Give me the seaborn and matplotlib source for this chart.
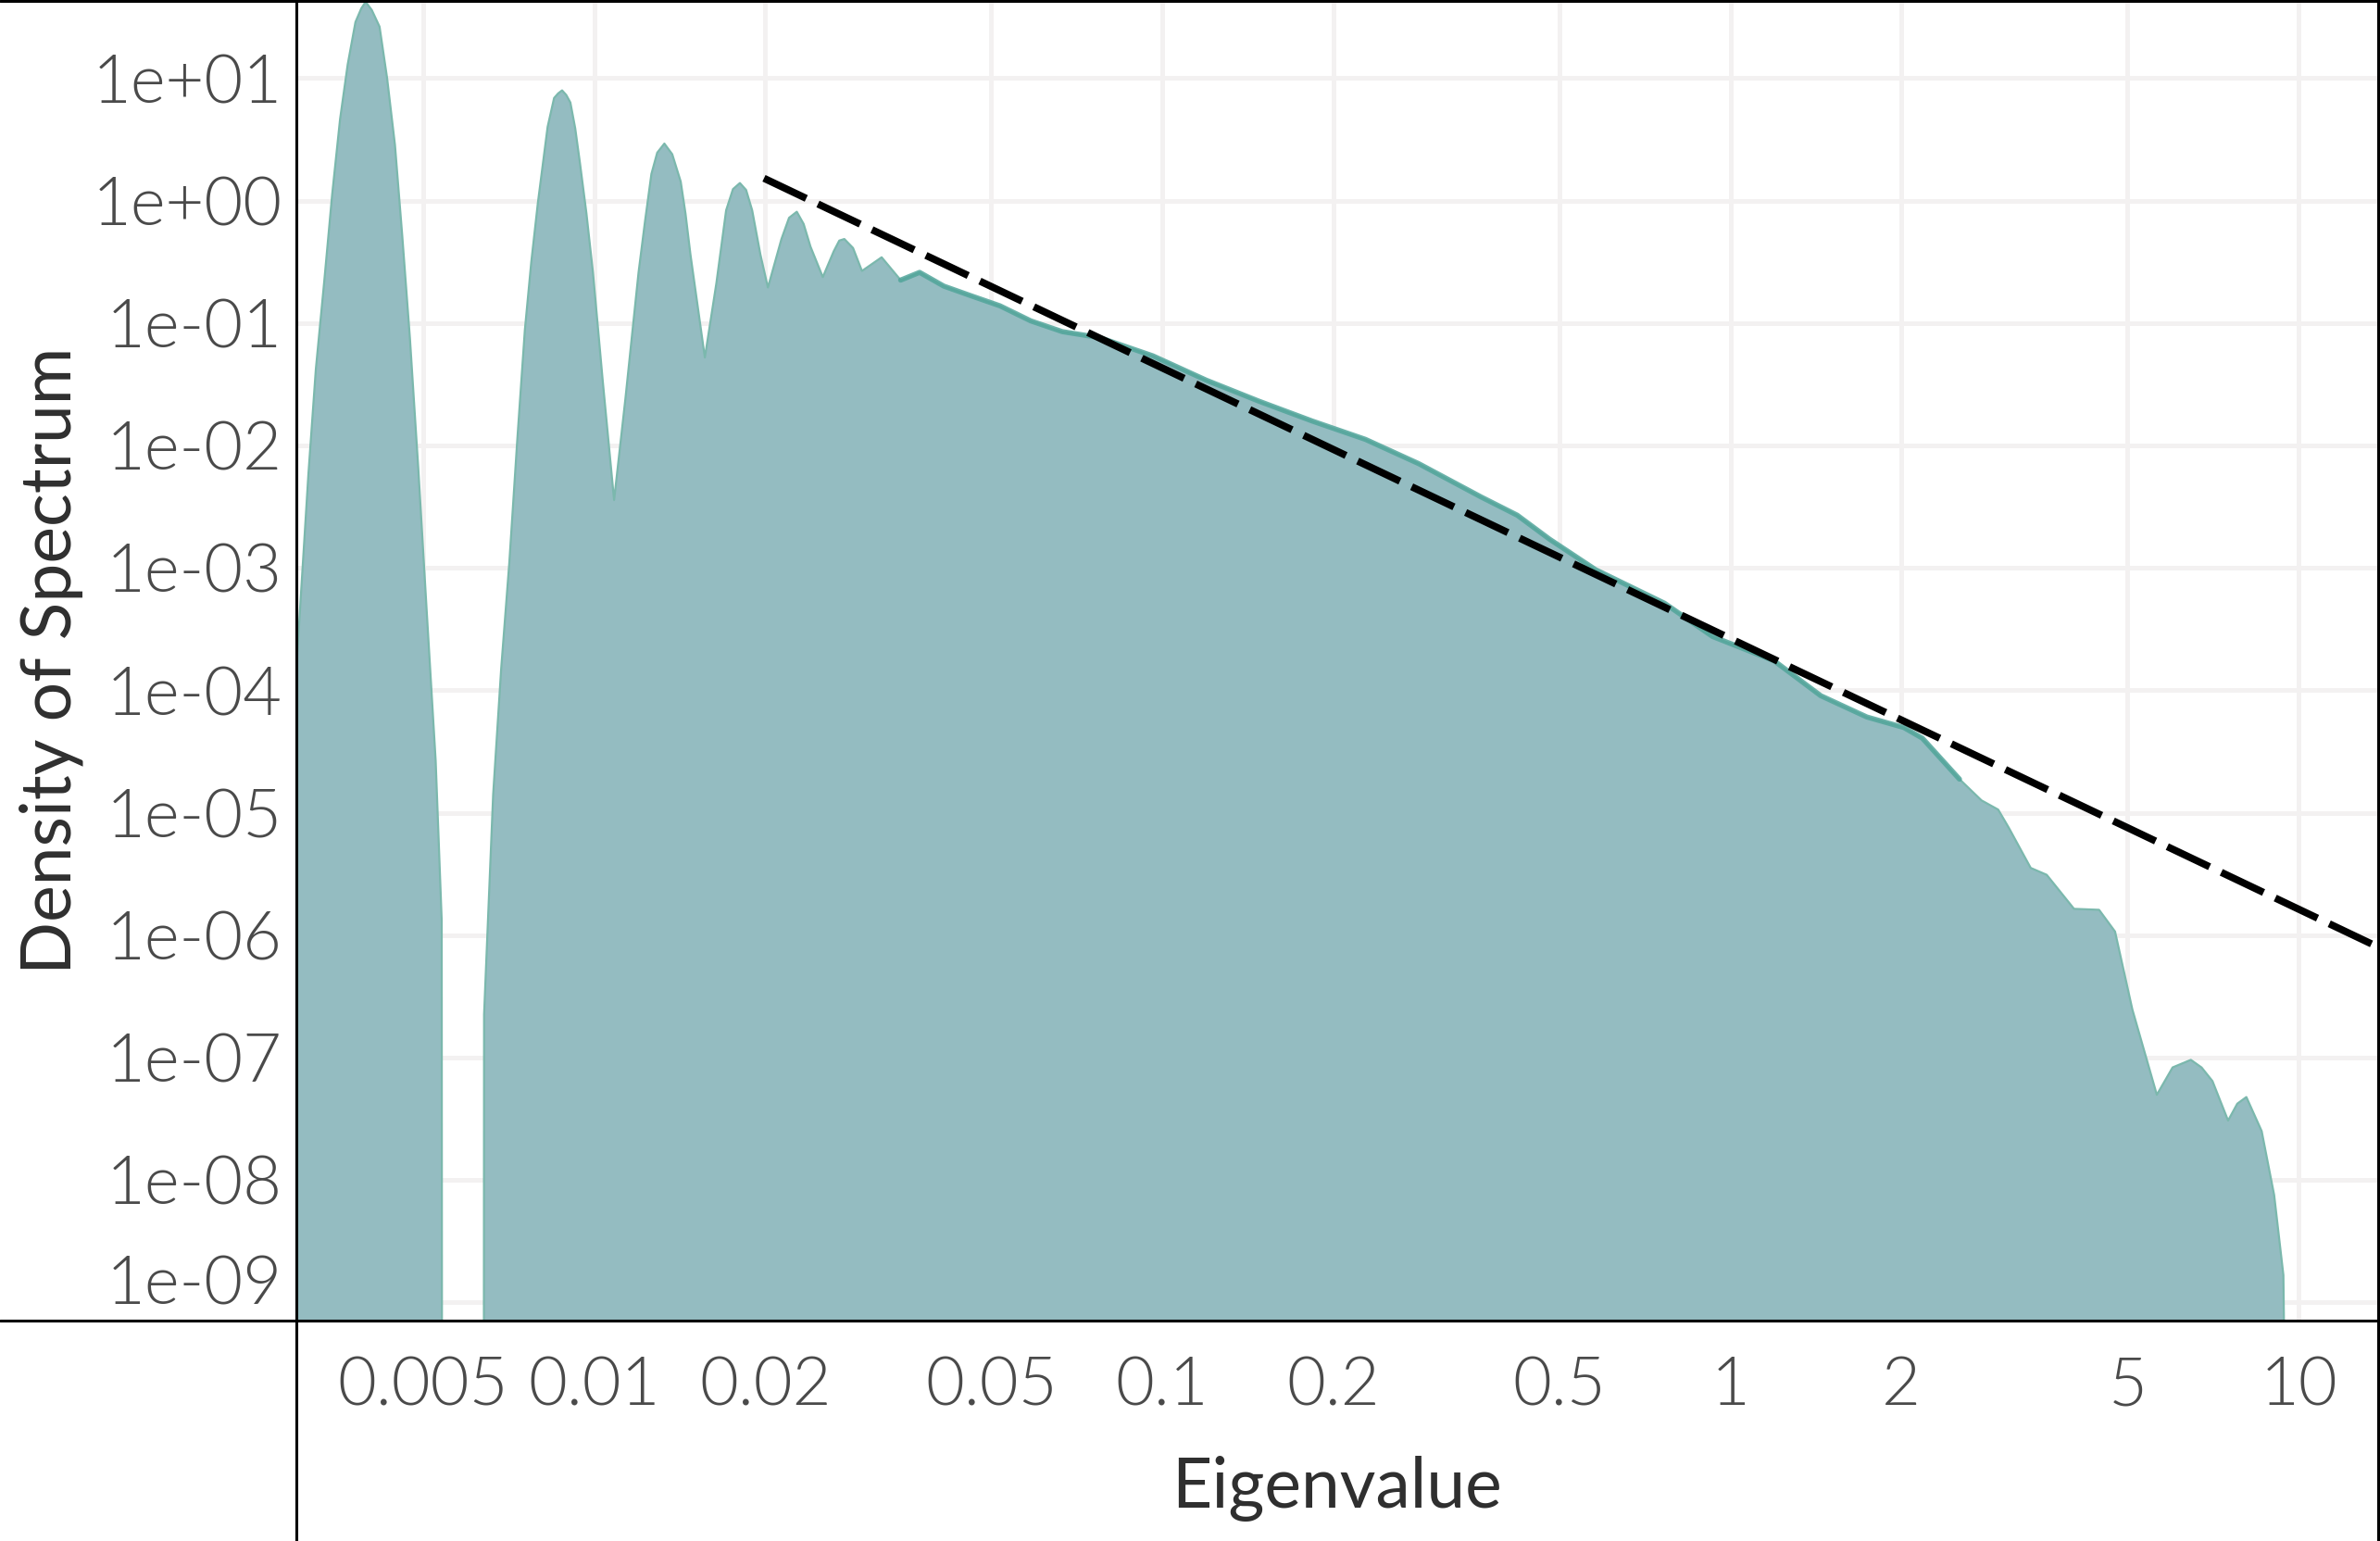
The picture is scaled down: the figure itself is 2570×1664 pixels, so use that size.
import numpy as np
import pandas as pd
import matplotlib
matplotlib.use("Agg")
import matplotlib.pyplot as plt
import matplotlib.transforms as mtransforms
from matplotlib.lines import Line2D
from matplotlib.ticker import NullLocator
import seaborn as sns

# ------------------------------------------------------------
# values (eigenvalue, density of spectrum)
# ------------------------------------------------------------
eigenvalue = [
    0.00296, 0.00314, 0.003236, 0.00335, 0.003457, 0.00357, 0.003682, 0.00380,
    0.00389, 0.00396, 0.00406, 0.00419, 0.00432, 0.00446, 0.004594, 0.00474,
    0.004902, 0.00507, 0.00526, 0.00539, 0.00540,
    0.00639, 0.00640, 0.00664, 0.00686, 0.00709, 0.00732, 0.00755, 0.00775,
    0.00796, 0.00828, 0.00850, 0.00864, 0.00878, 0.00893, 0.00908, 0.00926,
    0.00944, 0.00969, 0.00995, 0.01035, 0.01084, 0.01135, 0.01197, 0.01229,
    0.01261, 0.01291, 0.01329, 0.01372, 0.01420, 0.01448, 0.01477, 0.01566,
    0.01641, 0.01707, 0.01755, 0.01805, 0.01851, 0.01897, 0.01961, 0.02022,
    0.02136, 0.02203, 0.02273, 0.02337, 0.02403, 0.02526, 0.02640, 0.02700,
    0.02756, 0.02855, 0.02960, 0.03206, 0.03463, 0.03739, 0.04125, 0.04569,
    0.05180, 0.05868, 0.06666, 0.07762, 0.09631, 0.1195, 0.1482, 0.1837,
    0.2278, 0.2826, 0.3641, 0.4215, 0.4808, 0.5793, 0.7655, 0.9301, 1.194,
    1.442, 1.738, 2.020, 2.177, 2.530, 2.767, 2.960, 3.090, 3.377, 3.603,
    4.025, 4.455, 4.753, 5.100, 5.630, 6.002, 6.462, 6.750, 7.054, 7.515,
    7.800, 8.093, 8.611, 9.057, 9.404, 9.579,
]
density = [
    7.0e-5, 5.8e-3, 0.0417, 0.224, 1.11, 4.61, 12.9, 28.7,
    37.0, 42.0, 36.0, 26.3, 10.0, 2.84, 0.513, 0.0737,
    6.5e-3, 4.59e-4, 2.65e-5, 1.32e-6, 0.0,
    0.0, 2.25e-7, 1.41e-5, 1.51e-4, 1.11e-3, 0.0109, 0.0875, 0.316,
    0.961, 4.00, 6.88, 7.50, 7.94, 7.28, 6.32, 3.89,
    2.02, 0.787, 0.259, 0.0341, 3.58e-3, 0.0242, 0.259, 0.682,
    1.65, 2.46, 2.92, 2.39, 1.43, 0.78, 0.364, 0.0523,
    0.212, 0.833, 1.24, 1.39, 1.22, 0.833, 0.364, 0.195,
    0.485, 0.723, 0.810, 0.644, 0.420, 0.237, 0.385, 0.471,
    0.485, 0.41, 0.266, 0.344, 0.224, 0.259, 0.200, 0.169,
    0.138, 0.104, 0.0850, 0.0759, 0.0538, 0.0341, 0.0229, 0.0158,
    0.0112, 7.10e-3, 3.79e-3, 2.69e-3, 1.71e-3, 9.64e-4, 5.14e-4, 2.75e-4, 1.74e-4,
    9.03e-5, 6.05e-5, 4.96e-5, 4.06e-5, 1.88e-5, 1.26e-5, 1.06e-5, 7.54e-6,
    3.54e-6, 3.11e-6, 1.64e-6, 1.61e-6, 1.07e-6, 2.46e-7, 4.97e-8, 8.31e-8,
    9.58e-8, 8.3e-8, 6.43e-8, 3.06e-8,
    4.2e-8, 4.76e-8, 2.51e-8, 7.56e-9, 1.67e-9, 0.0,
]

# darker overlay only covers the bulk of the spectrum
overlay_lo, overlay_hi = 0.0345, 2.55

# power law fit (dashed)
fit_eigenvalue = [0.0199, 13.8]
fit_density = [1.52, 8.0e-7]

x_ticks = [0.005, 0.01, 0.02, 0.05, 0.1, 0.2, 0.5, 1, 2, 5, 10]
x_tick_labels = ["0.005", "0.01", "0.02", "0.05", "0.1", "0.2", "0.5", "1", "2", "5", "10"]
y_ticks = [1e1, 1e0, 1e-1, 1e-2, 1e-3, 1e-4, 1e-5, 1e-6, 1e-7, 1e-8, 1e-9]
y_tick_labels = ["1e+01", "1e+00", "1e-01", "1e-02", "1e-03", "1e-04",
                 "1e-05", "1e-06", "1e-07", "1e-08", "1e-09"]

# ------------------------------------------------------------
sns.set_theme(style="white")
plt.rcParams["font.family"] = ["Lato", "DejaVu Sans"]

FLOOR = 1e-12  # zero density -> below the panel on a log axis
df = pd.DataFrame({"eigenvalue": eigenvalue, "density": density})
df["density_plot"] = df["density"].clip(lower=FLOOR)
fit_df = pd.DataFrame({"eigenvalue": fit_eigenvalue, "density": fit_density})

fig = plt.figure(figsize=(25.7, 16.64), dpi=100)
ax = fig.add_axes([0.1245, 0.1430, 0.8743, 0.8564])
ax.set_xscale("log")
ax.set_yscale("log")
ax.set_xlim(0.00299, 13.75)
ax.set_ylim(7.1e-10, 42.7)

ax.fill_between(df["eigenvalue"], df["density_plot"], FLOOR,
                color="#94BCC1", lw=0, zorder=2)
sns.lineplot(data=df, x="eigenvalue", y="density_plot", estimator=None,
             sort=False, color="#7BB8AD", lw=1.6, ax=ax, zorder=3)

sub = df[(df["eigenvalue"] >= overlay_lo) & (df["eigenvalue"] <= overlay_hi)]
sns.lineplot(data=sub, x="eigenvalue", y="density_plot", estimator=None,
             sort=False, color="#52A59B", lw=4.0, alpha=0.85, ax=ax, zorder=4)

sns.lineplot(data=fit_df, x="eigenvalue", y="density", estimator=None,
             sort=False, color="black", lw=5.6, linestyle=(0, (6.5, 1.8)),
             ax=ax, zorder=5)

# grid / ticks
ax.set_axisbelow(True)
ax.grid(True, which="major", color="#F3F1F1", lw=3.6)
for s in ax.spines.values():
    s.set_visible(False)

ax.set_xticks(x_ticks, x_tick_labels)
ax.set_yticks(y_ticks, y_tick_labels)
ax.xaxis.set_minor_locator(NullLocator())
ax.yaxis.set_minor_locator(NullLocator())
ax.tick_params(axis="both", length=0, labelsize=52, labelcolor="#4A4A4A")
ax.tick_params(axis="x", pad=27)
ax.tick_params(axis="y", pad=11)
for lbl in ax.get_xticklabels() + ax.get_yticklabels():
    lbl.set_fontweight(300)

ax.set_xlabel("Eigenvalue", fontsize=54, color="#2F2F2F")
ax.xaxis.set_label_coords(0.5, -0.1418)
ax.xaxis.label.set_va("baseline")
ax.set_ylabel("Density of Spectrum", fontsize=54, color="#2F2F2F")
ax.yaxis.set_label_coords(-0.118, 0.5)
ax.yaxis.label.set_va("center")

# bottom label sits a bit above its grid line in the original
last = ax.get_yticklabels()[-1]
last.set_transform(last.get_transform()
                   + mtransforms.ScaledTranslation(0, 0.25, fig.dpi_scale_trans))

# frame lines that run across the whole figure
y_axis_line = 0.1430
x_axis_line = 0.1245
for xs, ys in [([0, 1], [y_axis_line, y_axis_line]),
               ([x_axis_line, x_axis_line], [0, 1]),
               ([0, 1], [0.9994, 0.9994]),
               ([0.9992, 0.9992], [0, 1])]:
    fig.add_artist(Line2D(xs, ys, transform=fig.transFigure, color="black", lw=2.2))

fig.savefig("out.png", dpi=100)
